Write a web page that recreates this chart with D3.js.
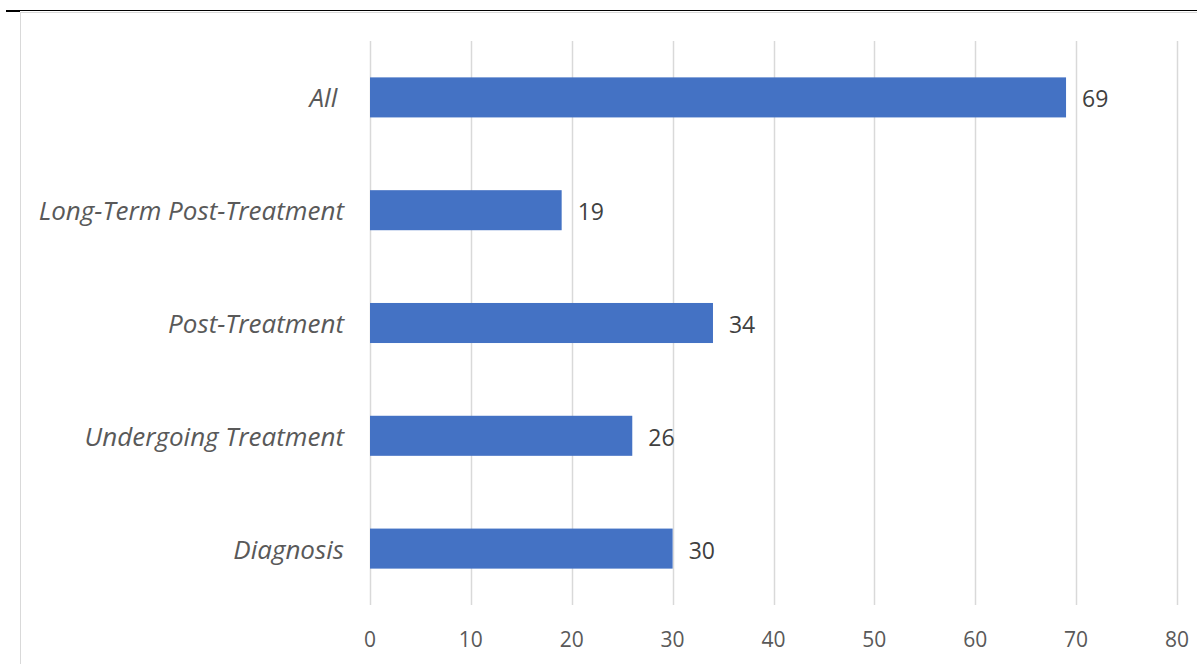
<!DOCTYPE html>
<html><head><meta charset="utf-8">
<script src="https://cdn.jsdelivr.net/npm/d3@7"></script>
<style>body{margin:0;background:#fff;}svg{display:block;}</style>
</head><body>
<svg id="c" width="1197" height="664"></svg>
<script>
const categories = ["All ", "Long-Term Post-Treatment", "Post-Treatment", "Undergoing Treatment", "Diagnosis"];
const values = [69, 19, 34, 26, 30];
const ticks = [0, 10, 20, 30, 40, 50, 60, 70, 80];

const svg = d3.select("#c");
const font = "'Open Sans', 'Noto Sans', sans-serif";

// top black rule and chart frame
svg.append("line").attr("x1", 6).attr("x2", 20).attr("y1", 11).attr("y2", 11).attr("stroke", "#000").attr("stroke-width", 2);
svg.append("line").attr("x1", 20).attr("x2", 1197).attr("y1", 10.5).attr("y2", 10.5).attr("stroke", "#000").attr("stroke-width", 1.2);
svg.append("rect").attr("x", 20.5).attr("y", 12.5).attr("width", 1190).attr("height", 700).attr("fill", "none").attr("stroke", "#d9d9d9").attr("stroke-width", 1);

const x = d3.scaleLinear().domain([0, 80]).range([370, 1177]);
const y = d3.scaleBand().domain(categories).range([41, 605]).paddingInner(0.645).paddingOuter(0.3225);

// gridlines
svg.append("g").selectAll("line").data(ticks).join("line")
  .attr("x1", d => Math.round(x(d)) + 0.5).attr("x2", d => Math.round(x(d)) + 0.5)
  .attr("y1", 41).attr("y2", 605).attr("stroke", "#d9d9d9").attr("stroke-width", 1.5);

// tick labels
svg.append("g").selectAll("text").data(ticks).join("text")
  .attr("x", d => x(d)).attr("y", 647).attr("text-anchor", "middle")
  .attr("font-family", font).attr("font-size", 21).attr("fill", "#595959").text(d => d);

// bars
svg.append("g").selectAll("rect").data(values).join("rect")
  .attr("x", x(0)).attr("y", (d, i) => y(categories[i]))
  .attr("width", d => x(d) - x(0)).attr("height", y.bandwidth()).attr("fill", "#4472C4");

// value labels
svg.append("g").selectAll("text").data(values).join("text")
  .attr("x", d => x(d) + 16).attr("y", (d, i) => y(categories[i]) + y.bandwidth() / 2 + 10)
  .attr("font-family", font).attr("font-size", 23).attr("fill", "#404040").text(d => d);

// category labels
svg.append("g").selectAll("text").data(categories).join("text")
  .attr("x", 344).attr("y", d => y(d) + y.bandwidth() / 2 + 10).attr("text-anchor", "end")
  .attr("font-family", font).attr("font-size", 26).attr("font-style", "italic").attr("fill", "#595959")
  .attr("xml:space", "preserve").style("white-space", "pre").text(d => d);
</script>
</body></html>
